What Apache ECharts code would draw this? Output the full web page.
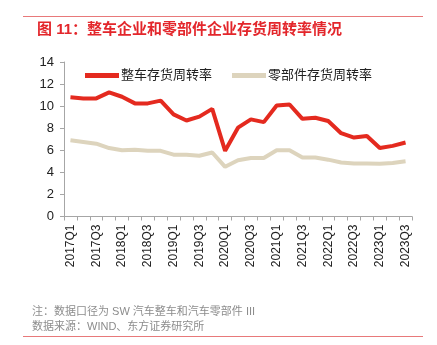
<!DOCTYPE html>
<html>
<head>
<meta charset="utf-8">
<script src="https://cdn.jsdelivr.net/npm/echarts@6/dist/echarts.min.js"></script>
<style>
  html, body { margin: 0; padding: 0; background: #fff; }
  #chart { width: 437px; height: 345px; }
</style>
</head>
<body>
<div id="chart"></div>
<script>
// Quarterly inventory turnover: vehicle makers vs. parts suppliers
const quarters = [
  '2017Q1','2017Q2','2017Q3','2017Q4',
  '2018Q1','2018Q2','2018Q3','2018Q4',
  '2019Q1','2019Q2','2019Q3','2019Q4',
  '2020Q1','2020Q2','2020Q3','2020Q4',
  '2021Q1','2021Q2','2021Q3','2021Q4',
  '2022Q1','2022Q2','2022Q3','2022Q4',
  '2023Q1','2023Q2','2023Q3'
];
const vehicleTurnover = [
  10.8, 10.7, 10.7, 11.25, 10.85, 10.25, 10.25, 10.5,
  9.25, 8.7, 9.05, 9.75, 5.95, 8.05, 8.8, 8.55,
  10.05, 10.15, 8.85, 8.95, 8.65, 7.55, 7.15, 7.3,
  6.2, 6.4, 6.7
];
const partsTurnover = [
  6.9, 6.75, 6.6, 6.2, 6.0, 6.05, 5.95, 5.95,
  5.6, 5.6, 5.5, 5.8, 4.5, 5.1, 5.3, 5.3,
  6.0, 6.0, 5.35, 5.35, 5.15, 4.9, 4.8, 4.8,
  4.78, 4.85, 5.0
];
const seriesNames = ['整车存货周转率', '零部件存货周转率'];
const titleText = '图 11：整车企业和零部件企业存货周转率情况';
const noteText = '注：数据口径为 SW 汽车整车和汽车零部件 III';
const sourceText = '数据来源：WIND、东方证券研究所';

const chart = echarts.init(document.getElementById('chart'));
const fontFamily = 'Arial, "Liberation Sans", "Noto Sans CJK SC", sans-serif';

chart.setOption({
  animation: false,
  textStyle: { fontFamily: fontFamily },
  title: {
    text: titleText,
    left: 32,
    top: 17,
    textStyle: { color: '#e3262b', fontSize: 15, fontWeight: 'bold', fontFamily: fontFamily }
  },
  legend: {
    data: seriesNames,
    left: 80,
    top: 64,
    itemWidth: 34,
    itemHeight: 5,
    itemGap: 20,
    icon: 'rect',
    textStyle: { color: '#222', fontSize: 13, padding: [0, 0, 0, -3] }
  },
  grid: { left: 64, right: 25, top: 62, bottom: 128.5 },
  xAxis: {
    type: 'category',
    data: quarters,
    boundaryGap: true,
    axisLine: { lineStyle: { color: '#a6a6a6', width: 1 } },
    axisTick: { show: true, interval: 0, length: 4, lineStyle: { color: '#a6a6a6' } },
    axisLabel: { interval: 1, rotate: 90, fontSize: 12, color: '#222', margin: 8 }
  },
  yAxis: {
    type: 'value',
    min: 0,
    max: 14,
    interval: 2,
    splitLine: { show: false },
    axisLine: { show: true, lineStyle: { color: '#a6a6a6', width: 1 } },
    axisTick: { show: true, length: 4, lineStyle: { color: '#a6a6a6' } },
    axisLabel: { fontSize: 13, color: '#222', margin: 10 }
  },
  series: [
    {
      name: seriesNames[0],
      type: 'line',
      data: vehicleTurnover,
      symbol: 'none',
      lineStyle: { color: '#e42a1f', width: 4 },
      itemStyle: { color: '#e42a1f' }
    },
    {
      name: seriesNames[1],
      type: 'line',
      data: partsTurnover,
      symbol: 'none',
      lineStyle: { color: '#ddd4bd', width: 4 },
      itemStyle: { color: '#ddd4bd' }
    }
  ],
  graphic: [
    { type: 'rect', shape: { x: 23, y: 16, width: 400, height: 1 }, style: { fill: '#e8797a' } },
    { type: 'rect', shape: { x: 23, y: 336, width: 400, height: 1 }, style: { fill: '#e8797a' } },
    { type: 'text', left: 32, top: 306, style: { text: noteText, fill: '#8c8c8c', fontSize: 11, fontFamily: fontFamily } },
    { type: 'text', left: 32, top: 321, style: { text: sourceText, fill: '#8c8c8c', fontSize: 11, fontFamily: fontFamily } }
  ]
});
</script>
</body>
</html>
